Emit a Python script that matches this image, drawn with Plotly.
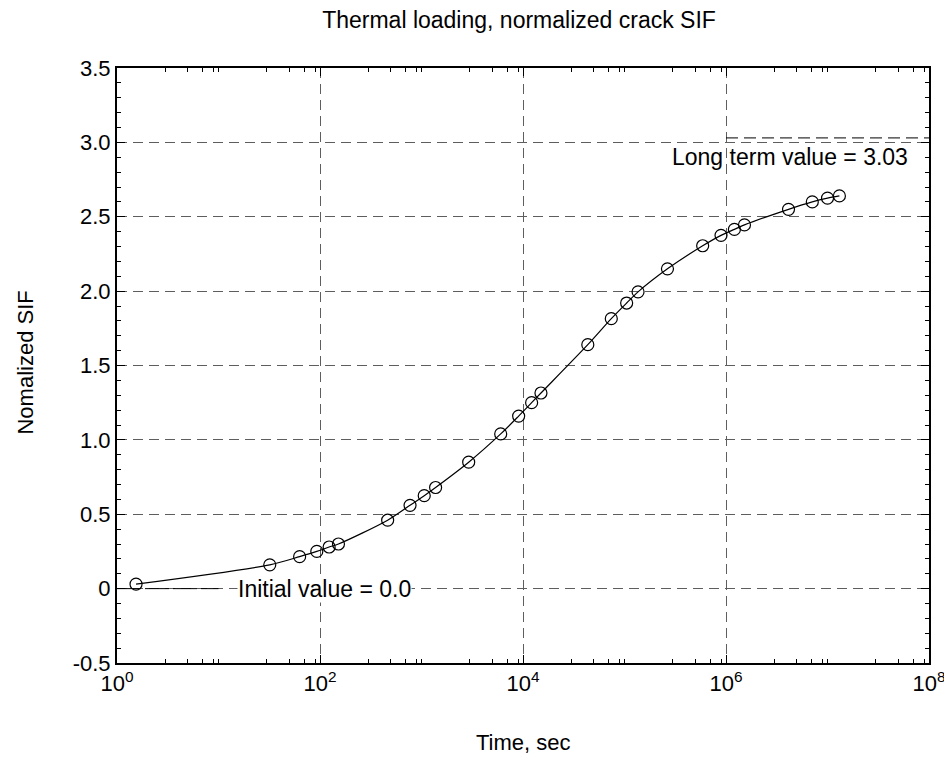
import numpy as np
import plotly.graph_objects as go

# ---- data ----
time_s = [1.54, 32, 63, 93, 123, 152, 464, 771, 1064, 1377, 2917, 6030, 9060,
          12160, 15030, 43500, 74100, 105000, 136000, 265000, 589000, 893000,
          1.21e6, 1.52e6, 4.13e6, 7.08e6, 1.0e7, 1.31e7]
sif = [0.03, 0.16, 0.215, 0.25, 0.28, 0.30, 0.46, 0.56, 0.625, 0.68, 0.85, 1.04,
       1.16, 1.25, 1.315, 1.64, 1.815, 1.92, 1.995, 2.15, 2.305, 2.375, 2.415,
       2.445, 2.55, 2.60, 2.625, 2.64]

long_term_x = [1e6, 1e8]
long_term_y = [3.03, 3.03]
initial_x = [1, 10]
initial_y = [0.0, 0.0]

x_tickvals = [1, 1e2, 1e4, 1e6, 1e8]
x_ticktext = ["10<sup>0</sup>", "10<sup>2</sup>", "10<sup>4</sup>", "10<sup>6</sup>", "10<sup>8</sup>"]
y_tickvals = [-0.5, 0, 0.5, 1.0, 1.5, 2.0, 2.5, 3.0, 3.5]
y_ticktext = ["-0.5", "0", "0.5", "1.0", "1.5", "2.0", "2.5", "3.0", "3.5"]

minor_x = [m * 10 ** k for k in range(0, 8) for m in (3, 5, 7, 9, 10) if m * 10 ** k not in x_tickvals]

FONT = "Liberation Sans, Arial, Helvetica, sans-serif"
GRID = "#5e5e5e"

W, H = 944, 750
L, R, T, B = 109, 23, 60, 95
PW, PH = W - L - R, H - T - B

fig = go.Figure()

fig.add_trace(go.Scatter(x=long_term_x, y=long_term_y, mode="lines",
                         line=dict(color="black", width=1, dash="12px,6px"),
                         showlegend=False, hoverinfo="skip"))
fig.add_trace(go.Scatter(x=initial_x, y=initial_y, mode="lines",
                         line=dict(color="black", width=1, dash="24px,4px"),
                         showlegend=False, hoverinfo="skip"))
fig.add_trace(go.Scatter(x=time_s, y=sif, mode="lines+markers",
                         line=dict(color="black", width=1.2, shape="spline", smoothing=0.8),
                         marker=dict(symbol="circle-open", size=12, color="black",
                                     line=dict(width=1.2, color="black")),
                         showlegend=False))

fig.add_annotation(x=np.log10(15.2), y=0, xref="x", yref="y", text="Initial value = 0.0",
                   showarrow=False, xanchor="left", yanchor="middle",
                   bgcolor="white", borderpad=0,
                   font=dict(family=FONT, size=23, color="black"))
fig.add_annotation(x=np.log10(6.5e7), y=2.905, xref="x", yref="y", text="Long term value = 3.03",
                   showarrow=False, xanchor="right", yanchor="middle",
                   font=dict(family=FONT, size=23, color="black"))

# axis titles
fig.add_annotation(x=0.5, y=-(734 - (T + PH)) / PH, xref="paper", yref="paper",
                   text="Time, sec", showarrow=False, xanchor="center", yanchor="middle",
                   font=dict(family=FONT, size=22, color="black"))
fig.add_annotation(x=(18 - L) / PW, y=0.505, xref="paper", yref="paper",
                   text="Nomalized SIF", showarrow=False, textangle=-90,
                   xanchor="center", yanchor="middle",
                   font=dict(family=FONT, size=22, color="black"))

fig.update_layout(
    width=W, height=H,
    margin=dict(l=L, r=R, t=T, b=B),
    paper_bgcolor="white", plot_bgcolor="white",
    font=dict(family=FONT, size=22, color="black"),
    title=dict(text="Thermal loading, normalized crack SIF", xref="container", x=511 / W,
               xanchor="center", y=1 - 12 / H, yanchor="middle",
               font=dict(family=FONT, size=23, color="black")),
)

fig.update_xaxes(
    type="log", range=[0, 8], automargin=False, ticklabeloverflow="allow",
    tickmode="array", tickvals=x_tickvals, ticktext=x_ticktext,
    ticks="inside", ticklen=8, tickwidth=1, tickcolor="black",
    showline=True, linecolor="black", linewidth=2, mirror="ticks",
    showgrid=True, gridcolor=GRID, gridwidth=1, griddash="10px,6px",
    zeroline=False,
    minor=dict(tickmode="array", tickvals=minor_x, ticks="inside", ticklen=4,
               tickcolor="black", tickwidth=1, showgrid=False),
    tickfont=dict(family=FONT, size=22),
)
fig.update_yaxes(
    range=[-0.5, 3.5], automargin=False,
    tickmode="array", tickvals=y_tickvals, ticktext=y_ticktext,
    ticks="inside", ticklen=8, tickwidth=1, tickcolor="black",
    showline=True, linecolor="black", linewidth=2, mirror="ticks",
    showgrid=True, gridcolor=GRID, gridwidth=1, griddash="10px,6px",
    zeroline=False,
    minor=dict(dtick=0.1, tick0=0, ticks="inside", ticklen=4,
               tickcolor="black", tickwidth=1, showgrid=False),
    tickfont=dict(family=FONT, size=22),
)

fig.write_html("out.html")
